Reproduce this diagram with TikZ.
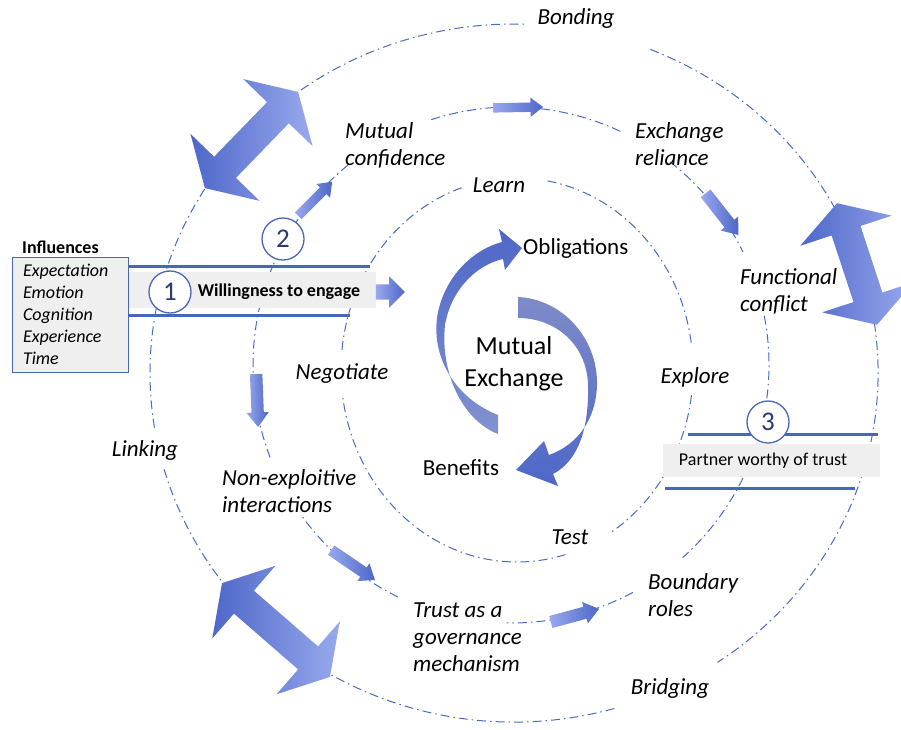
\documentclass[tikz,border=0pt]{standalone}
\usepackage{fontspec}
\setmainfont{Carlito}
\usetikzlibrary{shapes.arrows}
\usetikzlibrary{positioning}

\definecolor{ringblue}{HTML}{4A6BC4}
\definecolor{bandblue}{HTML}{4A66B8}
\definecolor{arrdark}{HTML}{4E67C8}
\definecolor{arrlight}{HTML}{98A9EE}
\definecolor{curvegray}{HTML}{7F8BC8}
\definecolor{curvelight}{HTML}{8292D0}
\definecolor{numblue}{HTML}{2B3A70}
\definecolor{boxgray}{HTML}{EFEFEF}

\tikzset{
  ring/.style={ringblue, line width=1pt, dash pattern=on 9pt off 4pt on 1.5pt off 4pt},
  band/.style={bandblue, line width=3pt},
  lbl/.style={font=\fontsize{23}{27}\selectfont\itshape, align=left, inner sep=0pt},
  num/.style={circle, draw=bandblue, line width=1.3pt, fill=white, minimum size=42pt, inner sep=0pt,
              text=numblue, font=\fontsize{27}{27}\selectfont},
  bigarrow/.style={double arrow, double arrow head extend=33pt, double arrow tip angle=118,
                   inner xsep=0pt, inner ysep=15pt, left color=arrdark, right color=arrlight},
  blkarrow/.style={single arrow, single arrow tip angle=75, single arrow head extend=5pt,
                   inner xsep=0pt, inner ysep=5.5pt, left color=arrlight, right color=arrdark}
}

\begin{document}
\begin{tikzpicture}[x=1pt, y=-1pt]
\useasboundingbox (0,0) rectangle (901,729);

% the three rings, broken where the labels sit
\coordinate (oc) at (514,373);
\coordinate (mc) at (511,365);
\coordinate (ic) at (517,370);
\foreach \a/\b in {-68/56, 74/164, 171/272}
  \draw[ring] (oc) ++(\a:364 and 349) arc[start angle=\a, end angle=\b, x radius=364, y radius=349];
\foreach \a/\b in {-108/-64.4, -52/-26, -11/48.3, 61.8/91, 116/144, 159/231.6}
  \draw[ring] (mc) ++(\a:258 and 258) arc[start angle=\a, end angle=\b, x radius=258, y radius=258];
\foreach \a/\b in {-80/-7, 7.5/58, 74/172.5, 186/252}
  \draw[ring] (ic) ++(\a:176 and 192) arc[start angle=\a, end angle=\b, x radius=176, y radius=192];

% influences and band 1
\node[draw=bandblue, line width=1pt, fill=boxgray, font=\fontsize{18}{22}\selectfont\itshape,
      align=left, text width=94pt, inner xsep=11pt, minimum height=115pt] (infl) at (70,314.5)
  {Expectation\\Emotion\\Cognition\\Experience\\Time};
\node[font=\fontsize{18}{22}\selectfont\bfseries, anchor=west, inner sep=0pt] (inflhead) at (22,247) {Influences};
\fill[boxgray] (infl.east |- 0,272) rectangle (376,308);
\draw[band] (infl.east |- 0,266) -- (370,266);
\draw[band] (infl.east |- 0,315) -- (350,315);
\node[font=\fontsize{18}{22}\selectfont\bfseries] (willing) at (279,292) {Willingness to engage};
\node[blkarrow, single arrow tip angle=90, inner ysep=7.5pt, single arrow head extend=8pt,
      minimum height=29pt] (awill) at (386.5,292) {};
\node[num] (n1) at (170,292) {1};

% band 3
\fill[boxgray] (663,444) rectangle (880,477);
\draw[band] (688,434) -- (878,434);
\draw[band] (665,488) -- (855,488);
\node[font=\fontsize{18}{22}\selectfont] (partner) at (763,461) {Partner worthy of trust};
\node[num] (n3) at (768,422) {3};

% big double arrows
\node[bigarrow, rotate=45.9, minimum height=134pt] (bondarr) at (251.5,140) {};
\node[bigarrow, rotate=108.2, minimum height=128pt] (conflarr) at (857,264) {};
\node[bigarrow, rotate=-41, minimum height=143pt] (bridgearr) at (276,630) {};

% small arrows along the middle ring
\node[blkarrow, rotate=45, inner ysep=4.5pt, minimum height=48pt] (acirc) at (313,201) {};
\node[blkarrow, rotate=1, inner ysep=4.5pt, minimum height=50pt] (atop) at (515,107.5) {};
\node[blkarrow, rotate=-51.8, inner ysep=6pt, minimum height=53pt] (aexch) at (719.5,211) {};
\node[blkarrow, rotate=-87.8, inner ysep=6pt, minimum height=53pt] (anonexp) at (257,396.5) {};
\node[blkarrow, rotate=-34.3, minimum height=53pt] (alow) at (350,563) {};
\node[blkarrow, rotate=15.2, inner ysep=6pt, minimum height=50pt] (atrust) at (571,616.5) {};
\node[num] (n2) at (283,239) {2};

% mutual exchange cycle
\shade[top color=arrdark, bottom color=curvelight]
  (498,415) .. controls (455,398) and (432,358) .. (437,318)
  .. controls (443,278) and (472,250) .. (502,242) -- (499,229) -- (522,248) -- (505,270) -- (503,259)
  .. controls (476,265) and (451,290) .. (445,325)
  .. controls (440,372) and (462,420) .. (498,434) -- cycle;
\shade[top color=curvegray, bottom color=arrdark]
  (518,297) .. controls (562,299) and (598,338) .. (597,385)
  .. controls (596,420) and (577,445) .. (549,455) -- (544,441) -- (516,470) -- (558,486) -- (553,474)
  .. controls (580,460) and (589,425) .. (588,385)
  .. controls (587,345) and (556,318) .. (518,318) -- cycle;
\node[font=\fontsize{26}{32}\selectfont, align=center] (mutex) at (514,364) {Mutual\\Exchange};
\node[font=\fontsize{23}{27}\selectfont, anchor=west, inner sep=0pt] (oblig) at (523,248) {Obligations};
\node[font=\fontsize{23}{27}\selectfont, inner sep=0pt] (benef) at (461,468) {Benefits};

% ring labels
\node[lbl] (bonding) at (576,18) {Bonding};
\node[lbl, anchor=west] (mutconf) at (345,145) {Mutual\\confidence};
\node[lbl, anchor=west] (exrel) at (635,144) {Exchange\\reliance};
\node[lbl] (learn) at (499,185) {Learn};
\node[lbl, anchor=west] (funcconf) at (740,291) {Functional\\conflict};
\node[lbl] (negot) at (342,374) {Negotiate};
\node[lbl] (explore) at (695,377) {Explore};
\node[lbl] (linking) at (145,450) {Linking};
\node[lbl, anchor=west] (nonexp) at (222,491) {Non-exploitive\\interactions};
\node[lbl] (test) at (570,537) {Test};
\node[lbl, anchor=west] (boundary) at (648,595) {Boundary\\roles};
\node[lbl, anchor=west] (trust) at (413,637) {Trust as a\\governance\\mechanism};
\node[lbl] (bridging) at (670,688) {Bridging};

\end{tikzpicture}
\end{document}
